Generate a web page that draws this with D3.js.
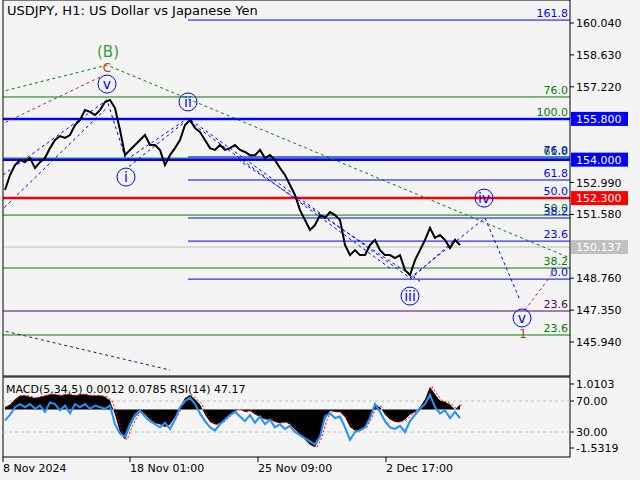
<!DOCTYPE html><html><head><meta charset="utf-8">
<script src="https://cdn.jsdelivr.net/npm/d3@7"></script>
<style>body{margin:0;background:#fff}svg{font-family:Tahoma,"DejaVu Sans",sans-serif}</style></head><body>
<svg id="c" width="640" height="480"></svg>
<script>
const title="USDJPY, H1:  US Dollar vs Japanese Yen";
const closes=[152.66,153.32,153.76,153.98,153.89,154.07,153.63,153.89,154.07,154.51,154.87,155.04,154.96,155.09,155.53,155.75,156.19,156.11,155.97,156.19,156.55,156.64,156.28,155.31,154.20,154.43,154.65,154.87,155.09,154.65,154.65,154.43,153.76,154.20,154.51,154.87,155.53,155.75,155.40,155.22,154.87,154.51,154.43,154.65,154.43,154.51,154.65,154.43,154.34,154.20,154.20,154.43,154.07,154.20,153.98,153.63,153.32,152.88,152.44,151.77,151.33,150.89,151.11,151.55,151.42,151.68,151.55,151.33,150.23,149.78,150.00,149.78,149.78,150.23,150.45,150.00,149.78,149.78,149.65,149.78,149.12,148.90,149.56,150.00,150.45,150.98,150.54,150.67,150.45,150.09,150.45,150.23];
const macd=[0.1,0.2,0.4,0.55,0.55,0.5,0.45,0.5,0.55,0.6,0.6,0.55,0.6,0.6,0.55,0.6,0.6,0.55,0.55,0.55,0.5,0.35,-0.2,-0.9,-1.2,-0.7,-0.3,-0.1,-0.2,-0.4,-0.55,-0.6,-0.7,-0.6,-0.3,0.1,0.45,0.57,0.4,0.2,-0.2,-0.5,-0.6,-0.55,-0.4,-0.2,-0.05,0.0,-0.1,-0.05,-0.2,-0.3,-0.4,-0.4,-0.5,-0.55,-0.5,-0.6,-0.8,-1.0,-1.2,-1.4,-1.5,-1.1,-0.4,-0.05,-0.1,-0.1,-0.3,-0.7,-0.85,-0.8,-0.7,-0.3,0.15,0.1,-0.2,-0.4,-0.5,-0.5,-0.4,-0.2,-0.1,0.1,0.4,0.9,0.6,0.35,0.3,0.2,0.0,0.2];
const rsi=[45,52,62,66,62,66,60,64,56,68,66,58,64,54,66,62,66,60,64,62,60,64,40,28,24,40,52,58,50,44,40,36,42,34,46,62,70,74,66,54,44,36,32,40,46,52,56,50,44,52,42,50,40,46,36,40,34,38,30,26,22,18,14,24,50,54,48,50,36,20,30,32,36,48,66,56,44,36,34,38,30,44,52,60,66,78,62,54,58,48,56,48];
const barStep=5, barStart=2;
const timeTicks=[{b:0,t:"8 Nov 2024"},{b:127,t:"18 Nov 01:00"},{b:255,t:"25 Nov 09:00"},{b:383,t:"2 Dec 17:00"}];
const priceTicks=[160.040,158.630,157.220,152.990,151.580,148.760,147.350,145.940];
const priceBoxes=[{p:155.800,t:"155.800",c:"#0000ff"},{p:154.000,t:"154.000",c:"#0000ff"},{p:152.300,t:"152.300",c:"#ff0000"},{p:150.137,t:"150.137",c:"#c0c0c0"}];
const blueFib=[{p:160.17,t:"161.8"},{p:154.12,t:"76.0"},{p:153.10,t:"61.8"},{p:152.30,t:"50.0"},{p:151.42,t:"38.2"},{p:150.40,t:"23.6"},{p:148.72,t:"0.0"}];
const greenFib=[{p:156.77,t:"76.0"},{p:155.80,t:"100.0"},{p:154.07,t:"61.8"},{p:151.55,t:"50.0"},{p:149.21,t:"38.2"},{p:146.25,t:"23.6"}];
const purpleFib=[{p:147.31,t:"23.6"}];
const greenWave=[[-3,156.99],[104,158.18],[567,149.65]];
const redWave=[[-3,155.53],[97,157.65]];
const redWave2=[[522,147.35],[552,149.12]];
const purpleWave=[[-3,146.47],[167,144.70]];
const blueWave=[[0,153.32],[104,156.64],[123,153.98],[185,155.84],[407,148.77],[482,151.42],[517,147.79]];
const channels=[[[186,155.7],[387,149.2]],[[235,154.0],[418,148.6]],[[-3,151.7],[104,156.3]],[[126,153.7],[180,155.6]],[[407,148.7],[453,150.5]]];
const circles=[{b:104,p:157.34,t:"v"},{b:185,p:156.55,t:"ii"},{b:123,p:153.23,t:"i"},{b:407,p:147.97,t:"iii"},{b:481,p:152.30,t:"iv"},{b:519,p:147.0,t:"v"}];

const svg=d3.select("#c");
const L=3,R=570,T=0,B=376,MT=377,MB=457;
svg.append("rect").attr("width",640).attr("height",480).attr("fill","#f4f4f4");
const x=d3.scaleLinear().domain([0,567]).range([L,R]);
const y=d3.scaleLinear().domain([145.940,160.040]).range([342,23]);
svg.append("clipPath").attr("id","cp").append("rect").attr("x",L).attr("y",T).attr("width",R-L).attr("height",B-T);
const g=svg.append("g").attr("clip-path","url(#cp)");
function hl(p,x1,c,w){g.append("line").attr("x1",x1).attr("x2",R).attr("y1",y(p)).attr("y2",y(p)).attr("stroke",c).attr("stroke-width",w||1);}
function lab(d,c){g.append("text").attr("x",568).attr("y",y(d.p)-3).attr("text-anchor","end").attr("fill",c).attr("font-size",11).text(d.t);}
greenFib.forEach(d=>{hl(d.p,L,"#008000");lab(d,"#008000");});
purpleFib.forEach(d=>{hl(d.p,L,"#4b0a5a");lab(d,"#4b0a5a");});
blueFib.forEach(d=>{hl(d.p,x(185),"#0000ff");lab(d,"#0000ff");});
hl(150.137,L,"#c0c0c0");
[155.8,154.0].forEach(p=>hl(p,L,"#0000ff",2.5));
hl(152.3,L,"#ff0000",2.5);
const ln=d3.line().x(d=>x(d[0])).y(d=>y(d[1]));
const dl=(pts,c)=>g.append("path").attr("d",ln(pts)).attr("fill","none").attr("stroke",c).attr("stroke-dasharray","3,3");
dl(greenWave,"#008000");dl(redWave,"#a52a2a");dl(redWave2,"#a52a2a");dl(purpleWave,"#4b0a5a");
channels.forEach(c=>dl(c,"#0000ff"));dl(blueWave,"#0000ff");
const pts=closes.map((c,i)=>[barStart+i*barStep,c]);
g.append("path").attr("d",ln(pts)).attr("fill","none").attr("stroke","#000").attr("stroke-width",2);
circles.forEach(c=>{g.append("circle").attr("cx",x(c.b)).attr("cy",y(c.p)).attr("r",9).attr("fill","none").attr("stroke","#0000ff");
 g.append("text").attr("x",x(c.b)).attr("y",y(c.p)+5).attr("text-anchor","middle").attr("fill","#0000ff").attr("font-size",14).text(c.t);});
g.append("text").attr("x",x(105)).attr("y",y(158.76)+5).attr("text-anchor","middle").attr("fill","#3a9a3a").attr("font-size",15).text("(B)");
g.append("text").attr("x",x(104)).attr("y",y(158.05)+4).attr("text-anchor","middle").attr("fill","#c04020").attr("font-size",12).text("C");
g.append("text").attr("x",x(520)).attr("y",y(146.34)+5).attr("text-anchor","middle").attr("fill","#c04020").attr("font-size",12).text("1");
svg.append("text").attr("x",7).attr("y",15).attr("font-size",13).text(title);
svg.append("rect").attr("x",L).attr("y",T).attr("width",R-L).attr("height",B-T).attr("fill","none").attr("stroke","#000");
priceTicks.forEach(p=>{svg.append("line").attr("x1",R).attr("x2",R+4).attr("y1",y(p)).attr("y2",y(p)).attr("stroke","#000");
 svg.append("text").attr("x",R+6).attr("y",y(p)+4).attr("font-size",11).text(p.toFixed(3));});
priceBoxes.forEach(b=>{svg.append("rect").attr("x",R+1).attr("y",y(b.p)-7).attr("width",57).attr("height",14).attr("fill",b.c);
 svg.append("text").attr("x",R+6).attr("y",y(b.p)+4).attr("font-size",11).attr("fill","#fff").text(b.t);});
const ym=d3.scaleLinear().domain([-1.5319,1.0103]).range([448,384]);
const yr=d3.scaleLinear().domain([30,70]).range([432,401]);
svg.append("rect").attr("x",L).attr("y",MT).attr("width",R-L).attr("height",MB-MT).attr("fill","#f4f4f4").attr("stroke","#000");
[70,30].forEach(v=>svg.append("line").attr("x1",L).attr("x2",R).attr("y1",yr(v)).attr("y2",yr(v)).attr("stroke","#c0c0c0").attr("stroke-dasharray","3,3"));
const bx=(d,i)=>x(barStart+i*barStep);
svg.append("path").attr("d",d3.area().x(bx).y0(ym(0)).y1(d=>ym(d))(macd)).attr("fill","#000");
svg.append("path").attr("d",d3.line().x((d,i)=>bx(d,i)+2).y(d=>ym(d))(macd)).attr("fill","none").attr("stroke","#ff0000").attr("stroke-dasharray","2,2");
svg.append("path").attr("d",d3.line().x(bx).y(d=>yr(d))(rsi)).attr("fill","none").attr("stroke","#1e90ff").attr("stroke-width",2);
svg.append("text").attr("x",6).attr("y",393).attr("font-size",11).text("MACD(5,34,5) 0.0012 0.0785 RSI(14) 47.17");
[[ym(1.0103),"1.0103"],[yr(70),"70.00"],[yr(30),"30.00"],[ym(-1.5319),"-1.5319"]].forEach(a=>{
 svg.append("line").attr("x1",R).attr("x2",R+4).attr("y1",a[0]).attr("y2",a[0]).attr("stroke","#000");
 svg.append("text").attr("x",R+6).attr("y",a[0]+4).attr("font-size",11).text(a[1]);});
timeTicks.forEach(t=>{svg.append("line").attr("x1",x(t.b)).attr("x2",x(t.b)).attr("y1",MB).attr("y2",MB+5).attr("stroke","#000");
 svg.append("text").attr("x",x(t.b)).attr("y",472).attr("font-size",11).text(t.t);});
</script></body></html>
